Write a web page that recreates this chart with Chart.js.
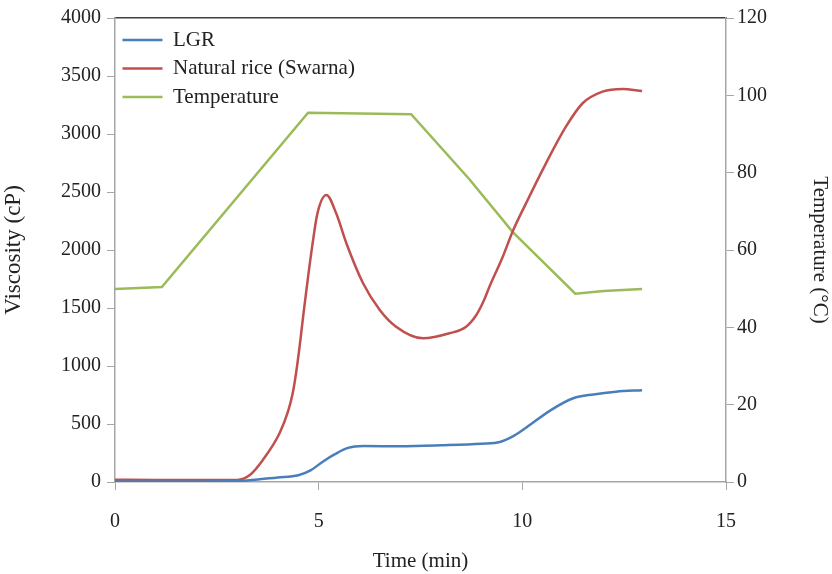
<!DOCTYPE html>
<html>
<head>
<meta charset="utf-8">
<title>Viscosity profile</title>
<script src="https://cdn.jsdelivr.net/npm/chart.js@4.4.0/dist/chart.umd.min.js"></script>
<style>
    html, body { margin: 0; padding: 0; background: #fff; }
    #wrap { width: 832px; height: 574px; }
</style>
</head>
<body>
<div id="wrap"><canvas id="rvaChart" width="832" height="574"></canvas></div>
<script>
// --- data ---
const lgrTime = [0, 1, 2, 3, 3.5, 4, 4.5, 4.8, 5.1, 5.4, 5.7, 6.1, 7, 8, 9, 9.45, 9.8, 10.1, 10.7, 11.25, 11.75, 12.3, 12.94];
const lgrVisc = [5, 5, 5, 8, 22, 38, 58, 100, 175, 240, 292, 310, 308, 316, 330, 345, 400, 470, 620, 722, 755, 778, 792];

const riceTime = [0, 1, 2, 3, 3.31, 3.63, 4.04, 4.25, 4.36, 4.45, 4.54, 4.63, 4.73, 4.84, 4.97, 5.19, 5.43, 5.68, 6.09, 6.5, 6.9, 7.56, 8.21, 8.62, 8.87, 9.05, 9.2, 9.52, 9.76, 10.09, 10.58, 11.07, 11.48, 11.97, 12.46, 12.94];
const riceVisc = [20, 18, 18, 18, 60, 190, 420, 610, 760, 950, 1190, 1460, 1741, 2029, 2316, 2474, 2316, 2058, 1713, 1483, 1339, 1239, 1282, 1339, 1440, 1560, 1690, 1942, 2158, 2402, 2747, 3063, 3265, 3365, 3388, 3371];

const tempTime = [0, 1.15, 4.74, 7.27, 8.7, 9.76, 11.3, 12.0, 12.94];
const tempVals = [49.9, 50.4, 95.5, 95.1, 78.3, 64.7, 48.7, 49.4, 49.9];

const xTicks = [0, 5, 10, 15];
const viscTicks = [0, 500, 1000, 1500, 2000, 2500, 3000, 3500, 4000];
const tempTicks = [0, 20, 40, 60, 80, 100, 120];

function toPoints(xs, ys) {
    var pts = [];
    for (var i = 0; i < xs.length; i++) {
        pts.push({ x: xs[i], y: ys[i] });
    }
    return pts;
}

// plain numbers, no thousands separator
function plain(value) { return String(value); }

const serif = 'Liberation Serif, Times New Roman, serif';
const axisGrey = '#a6a6a6';
const textCol = '#222';

var ctx = document.getElementById('rvaChart').getContext('2d');
var rvaChart = new Chart(ctx, {
    type: 'line',
    data: {
        datasets: [{
            label: 'LGR',
            data: toPoints(lgrTime, lgrVisc),
            borderColor: '#4a7ebb',
            backgroundColor: '#4a7ebb',
            borderWidth: 2.5,
            pointRadius: 0,
            pointStyle: 'line',
            cubicInterpolationMode: 'monotone',
            yAxisID: 'y'
        }, {
            label: 'Natural rice (Swarna)',
            data: toPoints(riceTime, riceVisc),
            borderColor: '#c0504d',
            backgroundColor: '#c0504d',
            borderWidth: 2.5,
            pointRadius: 0,
            pointStyle: 'line',
            cubicInterpolationMode: 'monotone',
            yAxisID: 'y'
        }, {
            label: 'Temperature',
            data: toPoints(tempTime, tempVals),
            borderColor: '#9bbb59',
            backgroundColor: '#9bbb59',
            borderWidth: 2.5,
            pointRadius: 0,
            pointStyle: 'line',
            tension: 0,
            yAxisID: 'y1'
        }]
    },
    options: {
        responsive: false,
        animation: false,
        layout: { padding: { top: 18, left: 0, right: 0, bottom: 0 } },
        plugins: {
            tooltip: { enabled: false },
            legend: {
                position: 'chartArea',
                align: 'start',
                // empty title only pushes the entries down a bit
                title: { display: true, text: '', font: { size: 10 }, padding: { top: 10, bottom: 0 } },
                labels: {
                    usePointStyle: true,
                    pointStyleWidth: 40,
                    boxHeight: 3,
                    padding: 7.5,
                    color: textCol,
                    font: { family: serif, size: 21 }
                }
            }
        },
        scales: {
            x: {
                type: 'linear',
                position: 'bottom',
                min: 0,
                max: 15,
                afterBuildTicks: function(scale) {
                    scale.ticks = xTicks.map(function(v) { return { value: v }; });
                },
                afterFit: function(scale) { scale.height = 92; },
                grid: { display: true, drawOnChartArea: false, tickLength: 8, color: axisGrey },
                border: { color: axisGrey, width: 1.5 },
                ticks: { color: textCol, padding: 20, callback: plain, font: { family: serif, size: 20 } },
                title: {
                    display: true,
                    text: 'Time (min)',
                    color: textCol,
                    padding: 0,
                    font: { family: serif, size: 21 }
                }
            },
            x2: {
                type: 'linear',
                position: 'top',
                min: 0,
                max: 15,
                afterFit: function(scale) { scale.height = 0; },
                grid: { display: false },
                border: { color: '#404040', width: 1.5 },
                ticks: { display: false }
            },
            y: {
                type: 'linear',
                position: 'left',
                min: 0,
                max: 4000,
                afterBuildTicks: function(scale) {
                    scale.ticks = viscTicks.map(function(v) { return { value: v }; });
                },
                afterFit: function(scale) { scale.width = 115; },
                grid: { display: true, drawOnChartArea: false, tickLength: 8, color: axisGrey },
                border: { color: axisGrey, width: 1.5 },
                ticks: { color: textCol, padding: 6, callback: plain, font: { family: serif, size: 20 } },
                title: {
                    display: true,
                    text: 'Viscosity (cP)',
                    color: textCol,
                    padding: { top: 0, bottom: 10 },
                    font: { family: serif, size: 23 }
                }
            },
            y1: {
                type: 'linear',
                position: 'right',
                min: 0,
                max: 120,
                afterBuildTicks: function(scale) {
                    scale.ticks = tempTicks.map(function(v) { return { value: v }; });
                },
                afterFit: function(scale) { scale.width = 106; },
                grid: { display: true, drawOnChartArea: false, tickLength: 8, color: axisGrey },
                border: { color: axisGrey, width: 1.5 },
                ticks: { color: textCol, padding: 3, callback: plain, font: { family: serif, size: 20 } },
                title: {
                    display: true,
                    text: 'Temperature (°C)',
                    color: textCol,
                    padding: 0,
                    font: { family: serif, size: 21 }
                }
            }
        }
    }
});
</script>
</body>
</html>
